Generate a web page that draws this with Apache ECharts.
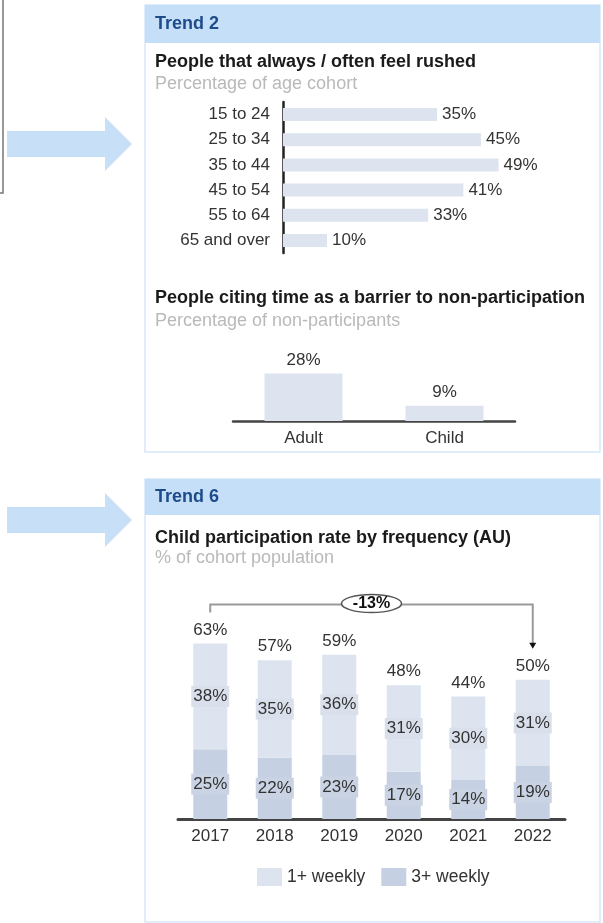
<!DOCTYPE html>
<html>
<head>
<meta charset="utf-8">
<script src="https://cdn.jsdelivr.net/npm/echarts@6/dist/echarts.min.js"></script>
<style>
  html, body { margin: 0; padding: 0; background: #fff; }
  #chart { width: 603px; height: 923px; }
</style>
</head>
<body>
<div id="chart"></div>
<script>
// data
const ageGroups = ['15 to 24', '25 to 34', '35 to 44', '45 to 54', '55 to 64', '65 and over'];
const rushedPct = [35, 45, 49, 41, 33, 10];
const barrierGroups = ['Adult', 'Child'];
const barrierPct = [28, 9];
const years = ['2017', '2018', '2019', '2020', '2021', '2022'];
const weekly3 = [25, 22, 23, 17, 14, 19];
const weekly1 = [38, 35, 36, 31, 30, 31];
const totals = weekly1.map((v, i) => v + weekly3[i]);

const FONT = '"Liberation Sans", Arial, sans-serif';
const LIGHT = '#dde4ef';
const DARK = '#c5d0e2';
const TXT = '#333';

const chart = echarts.init(document.getElementById('chart'));

const pctLabel = (pos, dist) => ({
  show: true,
  position: pos,
  distance: dist,
  formatter: '{c}%',
  color: TXT,
  fontSize: 17,
  fontFamily: FONT
});

chart.setOption({
  animation: false,
  textStyle: { fontFamily: FONT },
  grid: [
    { left: 283, top: 102, width: 308, height: 151 },
    { left: 233, top: 353, width: 282, height: 68 },
    { left: 178, top: 624, width: 387, height: 195 }
  ],
  xAxis: [
    { gridIndex: 0, type: 'value', min: 0, max: 70, show: false },
    {
      gridIndex: 1, type: 'category', data: barrierGroups,
      axisLine: { lineStyle: { color: '#444', width: 2.5 } },
      axisTick: { show: false },
      axisLabel: { margin: 9, fontSize: 17, color: TXT }
    },
    {
      gridIndex: 2, type: 'category', data: years,
      axisLine: { lineStyle: { color: '#444', width: 3 } },
      axisTick: { show: false },
      axisLabel: { margin: 9, fontSize: 17, color: TXT }
    }
  ],
  yAxis: [
    {
      gridIndex: 0, type: 'category', data: ageGroups, inverse: true,
      axisLine: { lineStyle: { color: '#222', width: 2.5 } },
      axisTick: { show: false },
      axisLabel: { margin: 13, fontSize: 17, color: TXT }
    },
    { gridIndex: 1, type: 'value', min: 0, max: 40, show: false },
    { gridIndex: 2, type: 'value', min: 0, max: 70, show: false }
  ],
  legend: {
    data: ['1+ weekly', '3+ weekly'],
    left: 257, top: 868, padding: 0,
    itemWidth: 25, itemHeight: 18, itemGap: 16,
    icon: 'rect',
    textStyle: { fontSize: 17.5, color: TXT }
  },
  series: [
    {
      type: 'bar', xAxisIndex: 0, yAxisIndex: 0, data: rushedPct,
      barWidth: 13, itemStyle: { color: LIGHT },
      label: pctLabel('right', 5)
    },
    {
      type: 'bar', xAxisIndex: 1, yAxisIndex: 1, data: barrierPct,
      barWidth: 78, itemStyle: { color: LIGHT },
      label: pctLabel('top', 5)
    },
    {
      name: '3+ weekly', type: 'bar', stack: 'kids', xAxisIndex: 2, yAxisIndex: 2,
      data: weekly3, barWidth: 34, itemStyle: { color: DARK },
      label: Object.assign(pctLabel('inside', 0), { backgroundColor: '#c9d3e3', padding: [2, 2] })
    },
    {
      name: '1+ weekly', type: 'bar', stack: 'kids', xAxisIndex: 2, yAxisIndex: 2,
      data: weekly1, barWidth: 34, itemStyle: { color: LIGHT },
      label: Object.assign(pctLabel('inside', 0), { backgroundColor: '#d9e0ec', padding: [2, 2] })
    },
    {
      type: 'scatter', xAxisIndex: 2, yAxisIndex: 2, data: totals,
      symbolSize: 0, silent: true,
      itemStyle: { opacity: 1 },
      label: pctLabel('top', 5)
    }
  ]
});

// page furniture: panels, headers, arrows, titles
const text = (x, y, str, opts) => ({
  type: 'text', silent: true,
  style: Object.assign({
    x: x, y: y, text: str, fill: '#1a1a1a',
    font: '18px ' + FONT,
    textAlign: 'left', textVerticalAlign: 'middle', align: 'left', verticalAlign: 'middle'
  }, opts || {})
});
const arrow = (y) => ({
  type: 'polygon', silent: true,
  shape: { points: [[7, y - 13], [105, y - 13], [105, y - 27], [132, y], [105, y + 27], [105, y + 13], [7, y + 13]] },
  style: { fill: '#c8dff8' }
});
const panel = (y, h) => ({
  type: 'rect', silent: true, z: -10,
  shape: { x: 145, y: y, width: 455, height: h },
  style: { fill: '#fff', stroke: '#d8e7f9', lineWidth: 1.5 }
});
const header = (y, h, label) => [
  { type: 'rect', silent: true, z: -5, shape: { x: 145, y: y, width: 455, height: h }, style: { fill: '#c6dff8' } },
  text(155, y + h / 2, label, { fill: '#1e4c8a', font: 'bold 18px ' + FONT })
];

// bracket annotation built from the stacked chart's own coordinates
const first = chart.convertToPixel({ xAxisIndex: 2, yAxisIndex: 2 }, [years[0], totals[0]]);
const last = chart.convertToPixel({ xAxisIndex: 2, yAxisIndex: 2 }, [years[years.length - 1], totals[totals.length - 1]]);
const topY = Math.min(first[1], last[1]) - 39;
const midX = (first[0] + last[0]) / 2;
const change = totals[totals.length - 1] - totals[0];

const elements = [
  { type: 'rect', silent: true, shape: { x: -6, y: -6, width: 9, height: 199 }, style: { fill: 'none', stroke: '#777', lineWidth: 1.5 } },
  arrow(144),
  arrow(520),
  panel(5, 447),
  ...header(5, 38, 'Trend 2'),
  text(155, 62, 'People that always / often feel rushed', { font: 'bold 18px ' + FONT }),
  text(155, 84, 'Percentage of age cohort', { fill: '#b9b9b9' }),
  text(155, 298, 'People citing time as a barrier to non-participation', { font: 'bold 18px ' + FONT }),
  text(155, 321, 'Percentage of non-participants', { fill: '#b9b9b9' }),
  panel(479, 443),
  ...header(479, 36, 'Trend 6'),
  text(155, 538, 'Child participation rate by frequency (AU)', { font: 'bold 18px ' + FONT }),
  text(155, 558, '% of cohort population', { fill: '#b9b9b9' }),
  {
    type: 'polyline', silent: true,
    shape: { points: [[first[0], first[1] - 31], [first[0], topY], [last[0], topY], [last[0], last[1] - 35]] },
    style: { stroke: '#9a9a9a', lineWidth: 2, fill: 'none' }
  },
  {
    type: 'polygon', silent: true,
    shape: { points: [[last[0] - 3.5, last[1] - 37], [last[0] + 3.5, last[1] - 37], [last[0], last[1] - 31]] },
    style: { fill: '#111' }
  },
  {
    type: 'ellipse', silent: true,
    shape: { cx: midX, cy: topY - 1, rx: 30, ry: 9 },
    style: { fill: '#fff', stroke: '#555', lineWidth: 1.5 }
  },
  text(midX, topY - 1, (change > 0 ? '+' : '') + change + '%', {
    font: 'bold 16px ' + FONT, textAlign: 'center', align: 'center', fill: '#111'
  })
];

chart.setOption({ graphic: { elements: elements } });
</script>
</body>
</html>
